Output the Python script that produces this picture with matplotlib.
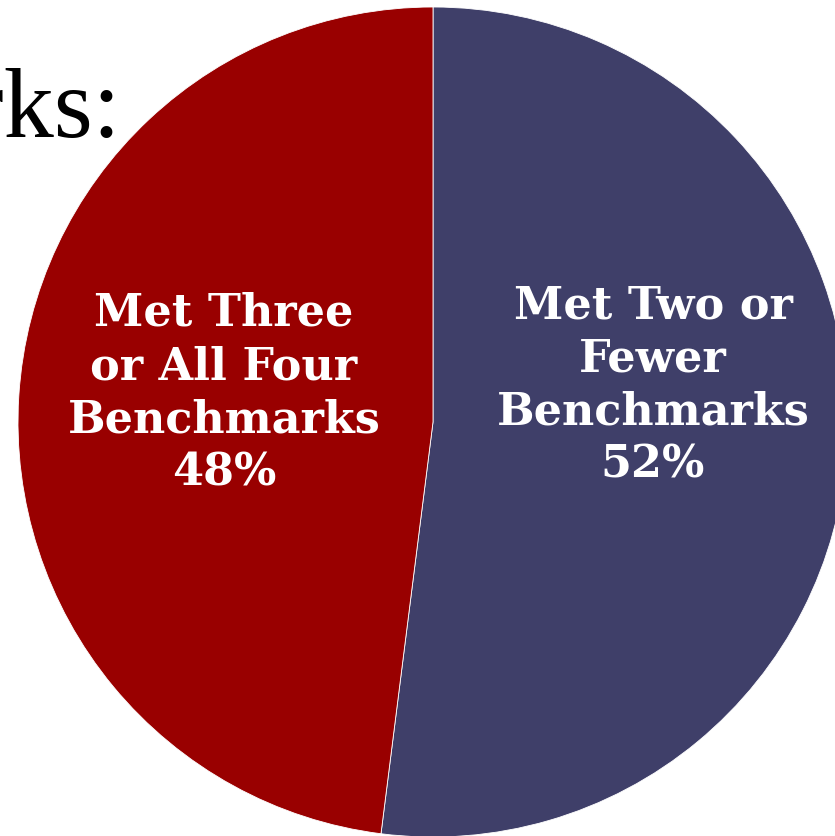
import numpy as np
import matplotlib.pyplot as plt

labels = ["Met Two or\nFewer\nBenchmarks\n52%", "Met Three\nor All Four\nBenchmarks\n48%"]
values = [52, 48]
colors = ["#3F3F69", "#990000"]
# label anchor positions in pie units (centre of the text block)
label_pos = [(0.530, 0.090), (-0.504, 0.072)]

W, H = 835, 837
fig = plt.figure(figsize=(W/100, H/100), dpi=100)

# circle centre (433, 423) px from top, radius 415 px
cx, cy, r = 433, 423, 415
ax = fig.add_axes([(cx-r)/W, (H-cy-r)/H, 2*r/W, 2*r/H])
ax.pie(values, colors=colors, startangle=90, counterclock=False,
       wedgeprops=dict(edgecolor="white", linewidth=0.6), radius=1)
ax.set_xlim(-1, 1)
ax.set_ylim(-1, 1)
ax.axis("off")

for lab, (x, y) in zip(labels, label_pos):
    ax.text(x, y, lab, ha="center", va="center", color="white",
            fontsize=32, fontweight="bold", family="DejaVu Serif",
            linespacing=1.3)

# cut-off title at top left
fig.text(121/W, 1-137/H, "Benchmarks:", ha="right", va="baseline",
         fontsize=72, family="Liberation Serif", color="black")

fig.savefig("out.png", dpi=100)
